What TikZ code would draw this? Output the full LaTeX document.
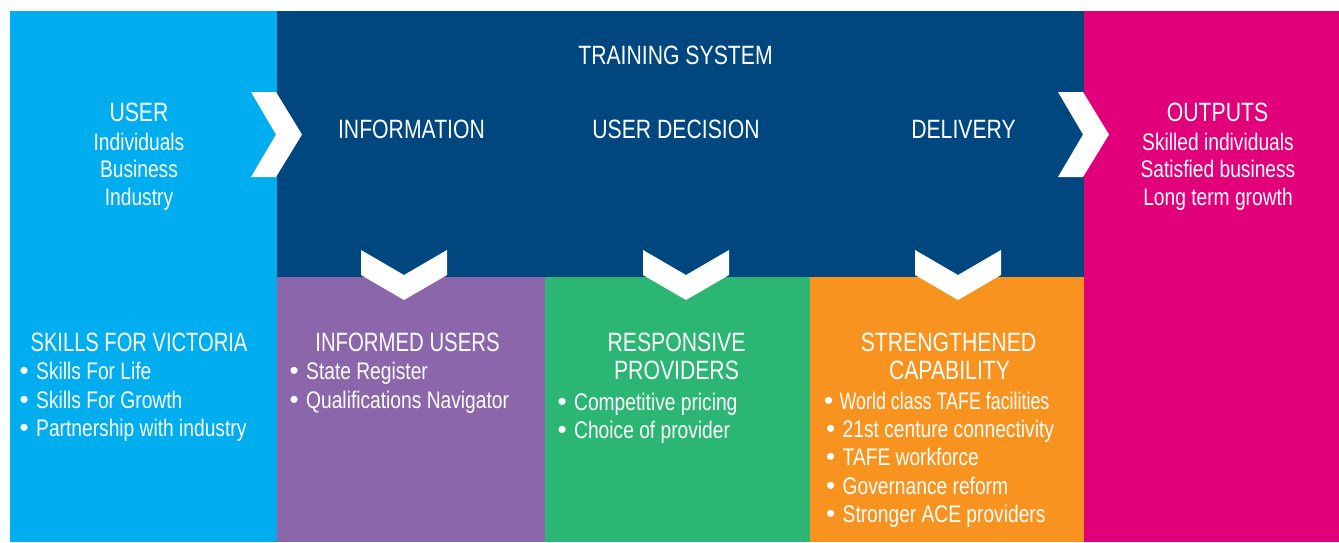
\documentclass[tikz,border=0pt]{standalone}
\usepackage{fontspec}
\usepackage{graphicx}
\setmainfont{Liberation Sans}[FakeStretch=0.8]
\newfontfamily\bulletfont{Liberation Sans}
\definecolor{skyblue}{HTML}{00AEEF}
\definecolor{navy}{HTML}{00467F}
\definecolor{violet}{HTML}{8C66AB}
\definecolor{mint}{HTML}{2BB673}
\definecolor{amber}{HTML}{F7931E}
\definecolor{magenta}{HTML}{E2007A}
\newcommand\bul{\makebox[16.5pt][l]{\bulletfont\fontsize{26}{26}\selectfont\char"2022}}
\tikzset{
  head/.style={text=white, inner sep=0pt, anchor=base, font=\fontsize{26.5}{28}\selectfont},
  item/.style={text=white, inner sep=0pt, anchor=base, font=\fontsize{24}{28}\selectfont},
  bitem/.style={item, anchor=base west},
  chev/.style={fill=white}
}
\begin{document}
\begin{tikzpicture}[x=1pt,y=-1pt]
\useasboundingbox (0,0) rectangle (1339,542);
% coloured panels
\fill[skyblue] (10,11) rectangle (277,542);
\fill[navy] (277,11) rectangle (1084,277);
\fill[violet] (277,277) rectangle (545,542);
\fill[mint] (545,277) rectangle (810,542);
\fill[amber] (810,277) rectangle (1084,542);
\fill[magenta] (1084,11) rectangle (1339,542);
% right-pointing chevrons
\fill[chev] (251,92) -- (276,92) -- (302,134.5) -- (276,177) -- (251,177) -- (276,134.5) -- cycle;
\fill[chev] (1058,92) -- (1083,92) -- (1109,134.5) -- (1083,177) -- (1058,177) -- (1083,134.5) -- cycle;
% down-pointing chevrons
\foreach \cx in {404,686,958}{
  \fill[chev] (\cx-43,250) -- (\cx,275) -- (\cx+43,250) -- (\cx+43,275) -- (\cx,300) -- (\cx-43,275) -- cycle;
}
% top row text
\node[head] (sys) at (675.5,64) {TRAINING SYSTEM};
\node[head] (user) at (139,121) {USER};
\node[item] (u1) at (139,150) {Individuals};
\node[item] (u2) at (139,177.5) {Business};
\node[item] (u3) at (139,205) {Industry};
\node[head] (info) at (411.5,138) {INFORMATION};
\node[head] (dec) at (676,138) {USER DECISION};
\node[head] (del) at (963.5,138) {DELIVERY};
\node[head] (out) at (1217.5,121) {OUTPUTS};
\node[item] (o1) at (1218,150) {Skilled individuals};
\node[item] (o2) at (1218,177.5) {Satisfied business};
\node[item] (o3) at (1218,205) {Long term growth};
% bottom row text
\node[head] (sfv) at (139,351) {\scalebox{0.95}[1]{SKILLS FOR VICTORIA}};
\node[bitem] (s1) at (19.5,379) {\bul Skills For Life};
\node[bitem] (s2) at (19.5,408) {\bul Skills For Growth};
\node[bitem] (s3) at (19.5,436) {\bul Partnership with industry};
\node[head] (inf) at (407.5,351) {\scalebox{0.96}[1]{INFORMED USERS}};
\node[bitem] (i1) at (289.5,379) {\bul State Register};
\node[bitem] (i2) at (289.5,408) {\bul Qualifications Navigator};
\node[head] (resp) at (676.5,351) {RESPONSIVE};
\node[head] (prov) at (676.5,379) {PROVIDERS};
\node[bitem] (r1) at (557.5,410) {\bul Competitive pricing};
\node[bitem] (r2) at (557.5,438) {\bul Choice of provider};
\node[head] (str) at (948.5,351) {STRENGTHENED};
\node[head] (cap) at (949.5,379) {CAPABILITY};
\node[bitem] (c1) at (824,409) {\makebox[15.5pt][l]{\bulletfont\fontsize{26}{26}\selectfont\char"2022}\scalebox{0.93}[1]{World class TAFE facilities}};
\node[bitem] (c2) at (826,437) {\bul 21st centure connectivity};
\node[bitem] (c3) at (826,465) {\bul TAFE workforce};
\node[bitem] (c4) at (826,494) {\bul Governance reform};
\node[bitem] (c5) at (826,522) {\bul Stronger ACE providers};
\end{tikzpicture}
\end{document}
